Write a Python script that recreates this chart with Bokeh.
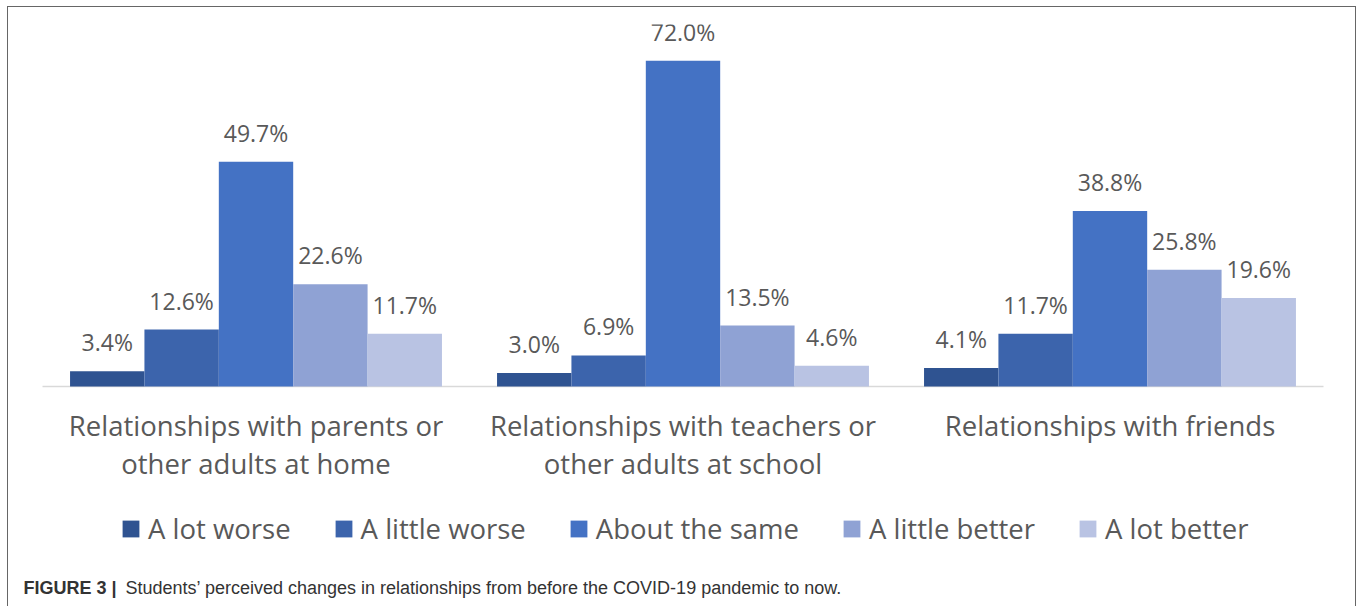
from bokeh.plotting import figure
from bokeh.models import ColumnDataSource, FactorRange, Range1d, Legend, LegendItem, Label
from bokeh.transform import dodge
from bokeh.core.properties import value
from bokeh.embed import file_html
from bokeh.resources import INLINE

groups = ["Relationships with parents or\nother adults at home",
          "Relationships with teachers or\nother adults at school",
          "Relationships with friends"]
series = ["A lot worse", "A little worse", "About the same", "A little better", "A lot better"]
a_lot_worse = [3.4, 3.0, 4.1]
a_little_worse = [12.6, 6.9, 11.7]
about_same = [49.7, 72.0, 38.8]
a_little_better = [22.6, 13.5, 25.8]
a_lot_better = [11.7, 4.6, 19.6]
values = [a_lot_worse, a_little_worse, about_same, a_little_better, a_lot_better]
colors = ["#2F5391", "#3C64AC", "#4472C4", "#8FA2D4", "#B9C3E3"]

FONT = "Open Sans"
TXT = "#595959"

p = figure(width=1349, height=600,
           x_range=FactorRange(*groups, range_padding=0.0531),
           y_range=Range1d(-48.8, 80), output_backend="svg", toolbar_location=None,
           x_axis_location=None, y_axis_location=None,
           min_border_left=0, min_border_right=0, min_border_top=17, min_border_bottom=0)
p.margin = (6, 0, 0, 7)
p.styles = {"border-top": "1.5px solid #666666", "border-left": "1.5px solid #666666",
            "border-right": "1.5px solid #666666"}
p.xgrid.visible = False
p.ygrid.visible = False
p.outline_line_color = None

# baseline (category axis line) spanning the factor range
base_src = ColumnDataSource(dict(g0=[groups[0]], g1=[groups[-1]], y=[0]))
p.segment(x0=dodge("g0", -0.5, range=p.x_range), x1=dodge("g1", 0.5, range=p.x_range),
          y0="y", y1="y", source=base_src, line_color="#D9D9D9", line_width=1.5)

w = 0.1742
items = []
for i, (name, vals, col) in enumerate(zip(series, values, colors)):
    src = ColumnDataSource(dict(g=groups, v=vals, lab=["%.1f%%" % x for x in vals]))
    off = (i - 2) * w
    r = p.vbar(x=dodge("g", off, range=p.x_range), top="v", width=w, source=src,
               fill_color=col, line_color=None)
    p.text(x=dodge("g", off, range=p.x_range), y="v", text="lab", source=src,
           text_align="center", text_baseline="alphabetic", y_offset=-29,
           text_font=value(FONT), text_font_size="23px", text_color=TXT)
    items.append(LegendItem(label=name, renderers=[r]))

cat_src = ColumnDataSource(dict(g=groups, y=[0, 0, 0]))
p.text(x="g", y="y", text="g", source=cat_src, text_align="center", text_baseline="top",
       y_offset=20, text_font=value(FONT), text_font_size="27.5px", text_color=TXT,
       text_line_height=1.04)

legend = Legend(items=items, orientation="horizontal", location=(112, 60),
                label_text_font=FONT, label_text_font_size="27.5px", label_text_color=TXT,
                glyph_width=21, glyph_height=21, spacing=42, label_standoff=7,
                border_line_color=None, background_fill_alpha=0, margin=0, padding=0)
p.add_layout(legend)

cap1 = Label(x=15, y=20, x_units="screen", y_units="screen", text="FIGURE 3 |",
             text_font="Liberation Sans", text_font_style="bold", text_font_size="18px",
             text_color="#333333", text_baseline="middle")
cap2 = Label(x=117, y=20, x_units="screen", y_units="screen",
             text="Students\u2019 perceived changes in relationships from before the COVID-19 pandemic to now.",
             text_font="Liberation Sans", text_font_size="18px",
             text_color="#333333", text_baseline="middle")
p.add_layout(cap1)
p.add_layout(cap2)

open("out.html", "w").write(file_html(p, INLINE))
